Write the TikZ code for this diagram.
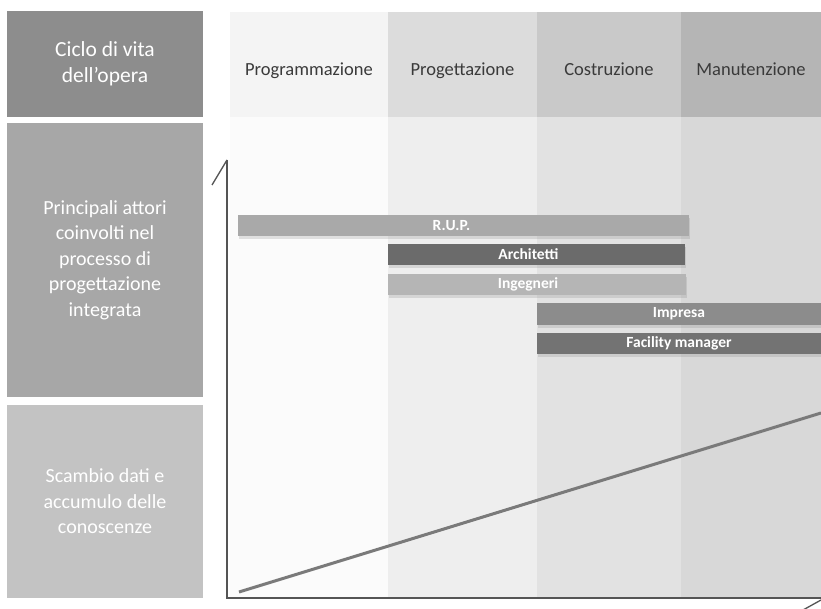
\documentclass[tikz,border=0pt]{standalone}
\usepackage{fontspec}
\setmainfont{Carlito}
\usepackage{tikz}
\usetikzlibrary{positioning, shadows}
\definecolor{ciclo}    {HTML}{8D8D8D}
\definecolor{attori}   {HTML}{A7A7A7}
\definecolor{scambio}  {HTML}{C3C3C3}
\definecolor{progrH}   {HTML}{F4F4F4}
\definecolor{progeH}   {HTML}{DCDCDC}
\definecolor{costrH}   {HTML}{C9C9C9}
\definecolor{manutH}   {HTML}{B5B5B5}
\definecolor{progrB}   {HTML}{FBFBFB}
\definecolor{progeB}   {HTML}{EEEEEE}
\definecolor{costrB}   {HTML}{E2E2E2}
\definecolor{manutB}   {HTML}{D8D8D8}
\definecolor{inktext}  {HTML}{3A3A3A}
\definecolor{axisgray} {HTML}{555555}
\definecolor{knowline} {HTML}{7A7A7A}

\begin{document}
\begin{tikzpicture}[x=1pt, y=-1pt,
    lbox/.style={fill=#1, text=white, align=center, inner sep=0pt,
                 minimum width=196pt, font=\fontsize{20}{25.5}\selectfont},
    phase/.style={fill=#1, text=inktext, inner sep=0pt,
                  minimum height=105pt, text height=26pt, text depth=4pt,
                  font=\fontsize{18.5}{22}\selectfont},
    bar/.style={fill=#1, text=white, inner sep=0pt, minimum height=21pt,
                font=\fontsize{15.5}{18}\selectfont\bfseries,
                drop shadow={opacity=0.22, shadow xshift=1pt, shadow yshift=-3pt}},
    axis/.style={draw=axisgray, line width=1.3pt},
    know/.style={draw=knowline, line width=3pt},
  ]
    \useasboundingbox (0,0) rectangle (821,609);
    \fill[white] (0,0) rectangle (821,609);
    \clip (0,0) rectangle (821,609);

    % left column
    \node[lbox=ciclo, minimum height=106pt, font=\fontsize{21.5}{26}\selectfont]
      (ciclo) at (105,64) {Ciclo di vita\\dell'opera};
    \node[lbox=attori, minimum height=274pt] (attori) at (105,260)
      {Principali attori\\coinvolti nel\\processo di\\progettazione\\integrata};
    \node[lbox=scambio, minimum height=193pt] (scambio) at (105,501.5)
      {Scambio dati e\\accumulo delle\\conoscenze};

    % phases
    \node[phase=progrH, minimum width=158pt] (progr) at (309,64.5) {Programmazione};
    \node[phase=progeH, minimum width=149pt] (proge) at (462.5,64.5) {Progettazione};
    \node[phase=costrH, minimum width=144pt] (costr) at (609,64.5) {Costruzione};
    \node[phase=manutH, minimum width=140pt] (manut) at (751,64.5) {Manutenzione};

    \coordinate (ytop) at (227,160);
    \coordinate (orig) at (227,598);
    \coordinate (xend) at (821,598);

    \fill[progrB] (progr.south west) rectangle (progr.east |- orig);
    \fill[progeB] (proge.south west) rectangle (proge.east |- orig);
    \fill[costrB] (costr.south west) rectangle (costr.east |- orig);
    \fill[manutB] (manut.south west) rectangle (manut.east |- orig);

    % actors
    \node[bar=attori!98, minimum width=451pt] (rup) at (463.5,225.5)
      {R.U.P.\hspace*{24pt}};
    \node[bar=black!58, minimum width=297pt] (arch) at (536.5,254.5)
      {Architetti\hspace*{16pt}};
    \node[bar=black!29, minimum width=298pt] (ing) at (537,284.5)
      {Ingegneri\hspace*{18pt}};
    \node[bar=black!45, minimum width=284pt] (impr) at (679,314) {Impresa};
    \node[bar=black!55, minimum width=284pt] (fm) at (679,343.5) {Facility manager};

    % axes
    \draw[axis] (ytop) -- (orig) -- (xend);
    \draw[axis] (ytop) -- ++(-15,25);
    \draw[axis] (xend) ++(0,2) -- ++(-18,10);

    \coordinate (kstart) at (239,592);
    \coordinate (kend) at (821,413);
    \draw[know] (kstart) -- (kend);
\end{tikzpicture}
\end{document}
